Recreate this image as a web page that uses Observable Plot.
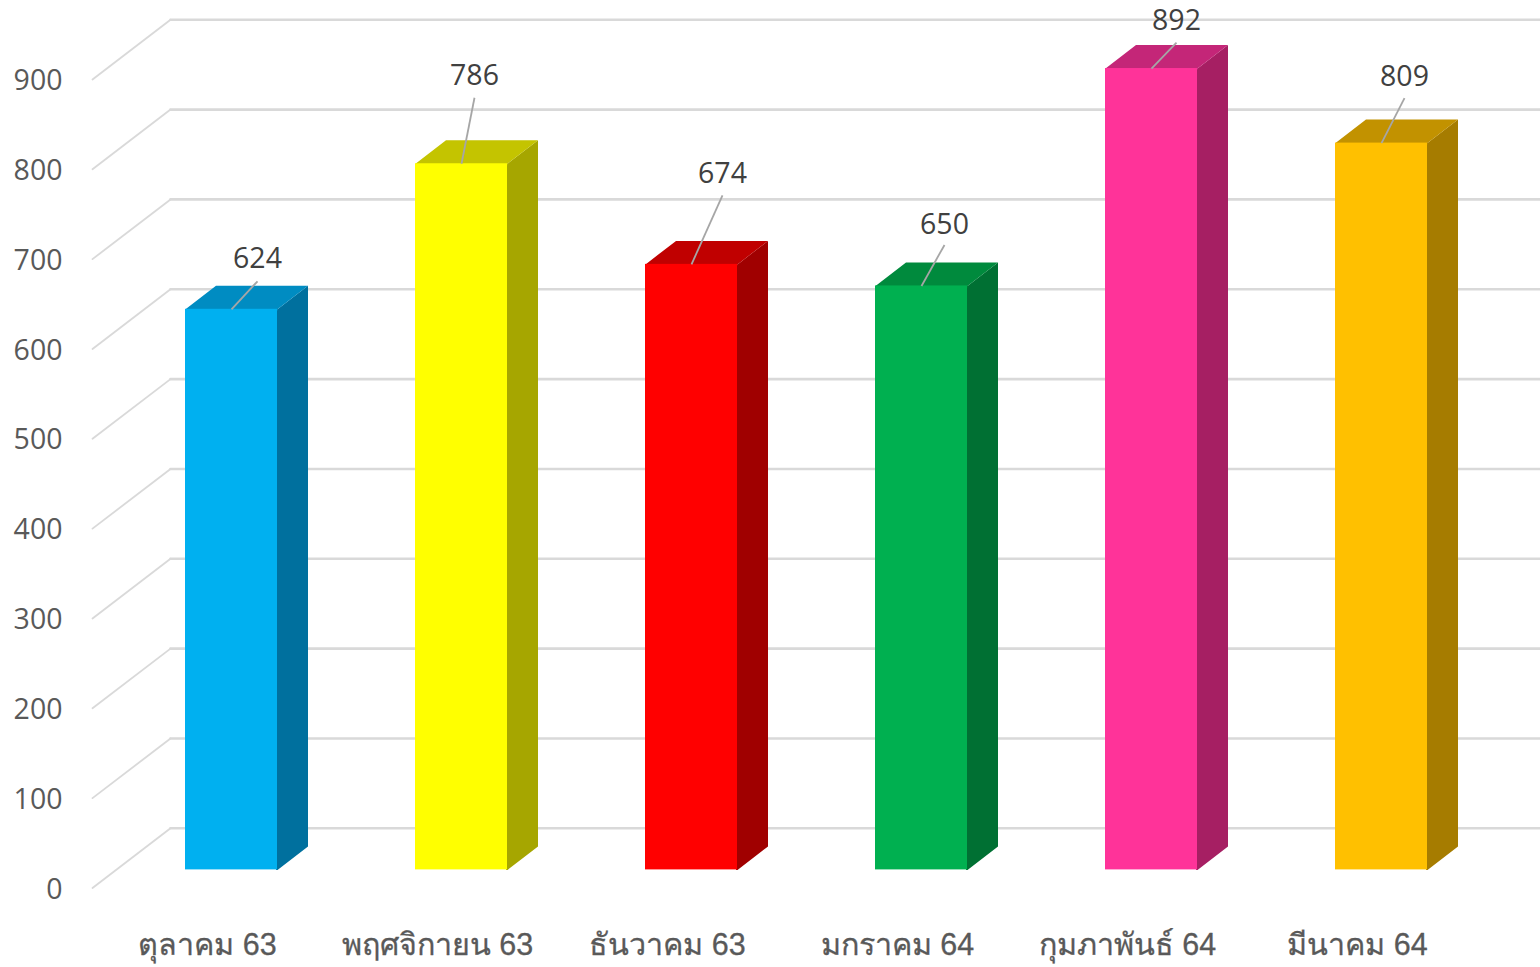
<!DOCTYPE html>
<html>
<head>
<meta charset="utf-8">
<script src="https://cdn.jsdelivr.net/npm/d3@7"></script>
<script src="https://cdn.jsdelivr.net/npm/@observablehq/plot@0.6"></script>
<style>
html,body{margin:0;padding:0;background:#fff;overflow:hidden}
svg{display:block}
</style>
</head>
<body>
<div id="chart"></div>
<script>
// Data
const categories = ["ตุลาคม 63","พฤศจิกายน 63","ธันวาคม 63","มกราคม 64","กุมภาพันธ์ 64","มีนาคม 64"];
const values = [624,786,674,650,892,809];
const ticks = [0,100,200,300,400,500,600,700,800,900];
const frontColors = ["#00B0F0","#FFFF00","#FF0000","#00B050","#FF3399","#FFC000"];
const sideColors = ["#00709E","#A6A600","#A00000","#007033","#A61F63","#A67C00"];
const topColors = ["#008CC2","#C4C400","#C00000","#008A3D","#C42678","#C29200"];

// Layout (pixels converted to scale units)
const pxX = 230, pxY = 0.8984;
const hx = 46/pxX, depthX = 30.5/pxX, depthY = 23.5/pxY, ex = 1.5/pxX, ey = 1.5/pxY;
const wallDY = 41.6/pxY, wallLeft = -61/pxX, sideLeft = -139/pxX, xMax = 1310/pxX, frontDY = -18.1/pxY;
const tickX = -169/pxX, catShift = -24/pxX, catY = -75/pxY;
const leaderPx = [[26,-28],[13,-66],[31,-69],[23,-41],[25,-26],[23,-45]];
const labelGap = [22,22,22,20,22,21];

const bars = values.map((v,i)=>({i,v,name:categories[i],front:frontColors[i],side:sideColors[i],top:topColors[i],
  lx:i+leaderPx[i][0]/pxX, ly:v-leaderPx[i][1]/pxY, ty:v-(leaderPx[i][1]-labelGap[i])/pxY}));
const poly = (b,pts,fill)=>pts.map(([x,y])=>({x,y,key:b.i,fill}));
const sides = bars.flatMap(b=>poly(b,[[b.i+hx-ex,0],[b.i+hx,0],[b.i+hx+depthX,depthY],[b.i+hx+depthX,b.v+depthY],[b.i+hx,b.v],[b.i+hx-ex,b.v]],b.side));
const tops = bars.flatMap(b=>poly(b,[[b.i-hx,b.v],[b.i-hx,b.v-ey],[b.i+hx,b.v-ey],[b.i+hx,b.v],[b.i+hx+depthX,b.v+depthY],[b.i-hx+depthX,b.v+depthY]],b.top));
const walls = ticks.flatMap(t=>[{x:wallLeft,y:t+wallDY,t},{x:xMax,y:t+wallDY,t}]);
const floors = ticks.flatMap(t=>[{x:sideLeft,y:t+frontDY,t},{x:wallLeft,y:t+wallDY,t}]);

const numFont = "'Open Sans',sans-serif";
const plot = Plot.plot({
  width:1540,height:967,margin:0,
  x:{domain:[0,5],range:[231,1381],axis:null},
  y:{domain:[0,900],range:[869.4,60.84],axis:null},
  style:{background:"#fff"},
  marks:[
    Plot.line(walls,{x:"x",y:"y",z:"t",stroke:"#D9D9D9",strokeWidth:2.6}),
    Plot.line(floors,{x:"x",y:"y",z:"t",stroke:"#D9D9D9",strokeWidth:1.8}),
    Plot.line(sides,{x:"x",y:"y",z:"key",fill:d=>d.fill,stroke:null,curve:"linear"}),
    Plot.line(tops,{x:"x",y:"y",z:"key",fill:d=>d.fill,stroke:null,curve:"linear"}),
    Plot.rect(bars,{x1:b=>b.i-hx,x2:b=>b.i+hx,y1:0,y2:"v",fill:"front"}),
    Plot.link(bars,{x1:"i",y1:"v",x2:"lx",y2:"ly",stroke:"#A6A6A6",strokeWidth:1.8}),
    Plot.text(bars,{x:"lx",y:"ty",text:d=>String(d.v),fill:"#404040",fontSize:28.5,fontFamily:numFont,lineAnchor:"middle"}),
    Plot.text(ticks,{x:()=>tickX,y:t=>t+frontDY,text:t=>String(t),fill:"#595959",fontSize:28.5,fontFamily:numFont,textAnchor:"end",lineAnchor:"middle",dy:1.5}),
    Plot.text(bars,{x:b=>b.i+catShift,y:()=>catY,text:"name",fill:"#595959",stroke:"#595959",strokeWidth:0.3,fontSize:30.5,fontFamily:"'Liberation Sans','Noto Sans',sans-serif",lineAnchor:"middle"})
  ]
});
document.getElementById("chart").appendChild(plot);
</script>
</body>
</html>
